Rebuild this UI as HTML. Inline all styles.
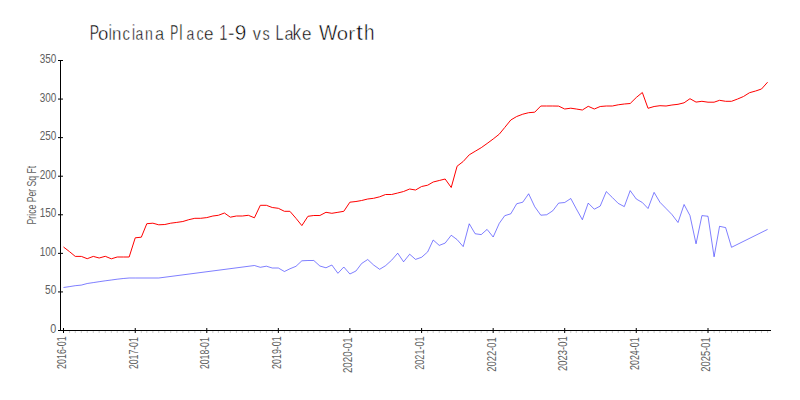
<!DOCTYPE html>
<html><head><meta charset="utf-8"><style>
html,body{margin:0;padding:0;background:#fff;}
body{width:800px;height:400px;overflow:hidden;}
svg{display:block;font-family:"Liberation Sans",sans-serif;}
</style></head><body>
<svg width="800" height="400" viewBox="0 0 800 400">
<rect width="800" height="400" fill="#fff"/>
<g font-size="21.5" fill="#000" stroke="#fff" stroke-width="0.5"><text transform="translate(89.86,40) scale(0.647,1.000)">P</text><text transform="translate(98.02,40) scale(0.867,0.870)">o</text><text transform="translate(108.69,40) scale(0.635,1.000)">i</text><text transform="translate(112.07,40) scale(0.788,0.870)">n</text><text transform="translate(122.57,40) scale(0.690,0.870)">c</text><text transform="translate(131.89,40) scale(0.635,1.000)">i</text><text transform="translate(135.40,40) scale(0.652,0.870)">a</text><text transform="translate(145.06,40) scale(0.657,0.870)">n</text><text transform="translate(154.91,40) scale(0.761,0.870)">a</text><text transform="translate(170.21,40) scale(0.559,1.000)">P</text><text transform="translate(179.30,40) scale(0.688,1.000)">l</text><text transform="translate(186.60,40) scale(0.652,0.870)">a</text><text transform="translate(196.39,40) scale(0.669,0.870)">c</text><text transform="translate(204.08,40) scale(0.793,0.870)">e</text><text transform="translate(219.27,40) scale(0.690,1.000)">1</text><text transform="translate(227.93,40) scale(0.914,1.000)">-</text><text transform="translate(234.63,40) scale(0.967,1.000)">9</text><text transform="translate(252.84,40) scale(0.764,0.870)">v</text><text transform="translate(262.40,40) scale(0.672,0.870)">s</text><text transform="translate(275.61,40) scale(0.675,1.000)">L</text><text transform="translate(284.51,40) scale(0.761,0.870)">a</text><text transform="translate(292.42,40) scale(0.814,1.000)">k</text><text transform="translate(302.08,40) scale(0.793,0.870)">e</text><text transform="translate(318.91,40) scale(0.904,1.000)">W</text><text transform="translate(336.75,40) scale(0.946,0.870)">o</text><text transform="translate(348.22,40) scale(0.967,0.870)">r</text><text transform="translate(356.02,40) scale(1.166,1.000)">t</text><text transform="translate(363.89,40) scale(0.882,1.000)">h</text></g>
<g fill="#606060" font-size="12"><text x="56.3" y="333" text-anchor="end" textLength="6" lengthAdjust="spacingAndGlyphs">0</text><text x="56.3" y="294" text-anchor="end" textLength="11.3" lengthAdjust="spacingAndGlyphs">50</text><text x="56.3" y="256" text-anchor="end" textLength="16.6" lengthAdjust="spacingAndGlyphs">100</text><text x="56.3" y="217" text-anchor="end" textLength="16.6" lengthAdjust="spacingAndGlyphs">150</text><text x="56.3" y="179" text-anchor="end" textLength="16.6" lengthAdjust="spacingAndGlyphs">200</text><text x="56.3" y="140" text-anchor="end" textLength="16.6" lengthAdjust="spacingAndGlyphs">250</text><text x="56.3" y="102" text-anchor="end" textLength="16.6" lengthAdjust="spacingAndGlyphs">300</text><text x="56.3" y="63" text-anchor="end" textLength="16.6" lengthAdjust="spacingAndGlyphs">350</text></g>
<g fill="#606060" font-size="12.5"><text transform="translate(66.10,336.30) rotate(-90)" text-anchor="end" textLength="32.70" lengthAdjust="spacingAndGlyphs">2016-01</text><text transform="translate(138.10,337.30) rotate(-90)" text-anchor="end" textLength="31.70" lengthAdjust="spacingAndGlyphs">2017-01</text><text transform="translate(209.10,337.30) rotate(-90)" text-anchor="end" textLength="31.70" lengthAdjust="spacingAndGlyphs">2018-01</text><text transform="translate(281.10,336.30) rotate(-90)" text-anchor="end" textLength="32.70" lengthAdjust="spacingAndGlyphs">2019-01</text><text transform="translate(352.10,337.30) rotate(-90)" text-anchor="end" textLength="35.75" lengthAdjust="spacingAndGlyphs">2020-01</text><text transform="translate(424.10,336.30) rotate(-90)" text-anchor="end" textLength="33.50" lengthAdjust="spacingAndGlyphs">2021-01</text><text transform="translate(496.10,337.30) rotate(-90)" text-anchor="end" textLength="34.40" lengthAdjust="spacingAndGlyphs">2022-01</text><text transform="translate(567.10,336.30) rotate(-90)" text-anchor="end" textLength="34.70" lengthAdjust="spacingAndGlyphs">2023-01</text><text transform="translate(639.10,337.30) rotate(-90)" text-anchor="end" textLength="32.75" lengthAdjust="spacingAndGlyphs">2024-01</text><text transform="translate(710.10,337.30) rotate(-90)" text-anchor="end" textLength="34.40" lengthAdjust="spacingAndGlyphs">2025-01</text></g>
<text transform="translate(36.3,224.4) rotate(-90)" fill="#606060" font-size="12.8" textLength="58.6" lengthAdjust="spacingAndGlyphs">Price Per Sq Ft</text>
<g stroke="#ccc" stroke-width="1"><line x1="69.58" x2="69.58" y1="331" y2="333"/><line x1="75.26" x2="75.26" y1="331" y2="333"/><line x1="81.34" x2="81.34" y1="331" y2="333"/><line x1="87.22" x2="87.22" y1="331" y2="333"/><line x1="93.29" x2="93.29" y1="331" y2="333"/><line x1="99.17" x2="99.17" y1="331" y2="333"/><line x1="105.25" x2="105.25" y1="331" y2="333"/><line x1="111.33" x2="111.33" y1="331" y2="333"/><line x1="117.21" x2="117.21" y1="331" y2="333"/><line x1="123.28" x2="123.28" y1="331" y2="333"/><line x1="129.17" x2="129.17" y1="331" y2="333"/><line x1="141.32" x2="141.32" y1="331" y2="333"/><line x1="146.81" x2="146.81" y1="331" y2="333"/><line x1="152.88" x2="152.88" y1="331" y2="333"/><line x1="158.76" x2="158.76" y1="331" y2="333"/><line x1="164.84" x2="164.84" y1="331" y2="333"/><line x1="170.72" x2="170.72" y1="331" y2="333"/><line x1="176.80" x2="176.80" y1="331" y2="333"/><line x1="182.87" x2="182.87" y1="331" y2="333"/><line x1="188.75" x2="188.75" y1="331" y2="333"/><line x1="194.83" x2="194.83" y1="331" y2="333"/><line x1="200.71" x2="200.71" y1="331" y2="333"/><line x1="212.86" x2="212.86" y1="331" y2="333"/><line x1="218.35" x2="218.35" y1="331" y2="333"/><line x1="224.43" x2="224.43" y1="331" y2="333"/><line x1="230.31" x2="230.31" y1="331" y2="333"/><line x1="236.39" x2="236.39" y1="331" y2="333"/><line x1="242.27" x2="242.27" y1="331" y2="333"/><line x1="248.34" x2="248.34" y1="331" y2="333"/><line x1="254.42" x2="254.42" y1="331" y2="333"/><line x1="260.30" x2="260.30" y1="331" y2="333"/><line x1="266.38" x2="266.38" y1="331" y2="333"/><line x1="272.26" x2="272.26" y1="331" y2="333"/><line x1="284.41" x2="284.41" y1="331" y2="333"/><line x1="289.90" x2="289.90" y1="331" y2="333"/><line x1="295.97" x2="295.97" y1="331" y2="333"/><line x1="301.86" x2="301.86" y1="331" y2="333"/><line x1="307.93" x2="307.93" y1="331" y2="333"/><line x1="313.81" x2="313.81" y1="331" y2="333"/><line x1="319.89" x2="319.89" y1="331" y2="333"/><line x1="325.97" x2="325.97" y1="331" y2="333"/><line x1="331.85" x2="331.85" y1="331" y2="333"/><line x1="337.92" x2="337.92" y1="331" y2="333"/><line x1="343.80" x2="343.80" y1="331" y2="333"/><line x1="355.96" x2="355.96" y1="331" y2="333"/><line x1="361.64" x2="361.64" y1="331" y2="333"/><line x1="367.72" x2="367.72" y1="331" y2="333"/><line x1="373.60" x2="373.60" y1="331" y2="333"/><line x1="379.67" x2="379.67" y1="331" y2="333"/><line x1="385.55" x2="385.55" y1="331" y2="333"/><line x1="391.63" x2="391.63" y1="331" y2="333"/><line x1="397.71" x2="397.71" y1="331" y2="333"/><line x1="403.59" x2="403.59" y1="331" y2="333"/><line x1="409.66" x2="409.66" y1="331" y2="333"/><line x1="415.54" x2="415.54" y1="331" y2="333"/><line x1="427.70" x2="427.70" y1="331" y2="333"/><line x1="433.19" x2="433.19" y1="331" y2="333"/><line x1="439.26" x2="439.26" y1="331" y2="333"/><line x1="445.14" x2="445.14" y1="331" y2="333"/><line x1="451.22" x2="451.22" y1="331" y2="333"/><line x1="457.10" x2="457.10" y1="331" y2="333"/><line x1="463.18" x2="463.18" y1="331" y2="333"/><line x1="469.25" x2="469.25" y1="331" y2="333"/><line x1="475.13" x2="475.13" y1="331" y2="333"/><line x1="481.21" x2="481.21" y1="331" y2="333"/><line x1="487.09" x2="487.09" y1="331" y2="333"/><line x1="499.24" x2="499.24" y1="331" y2="333"/><line x1="504.73" x2="504.73" y1="331" y2="333"/><line x1="510.81" x2="510.81" y1="331" y2="333"/><line x1="516.69" x2="516.69" y1="331" y2="333"/><line x1="522.77" x2="522.77" y1="331" y2="333"/><line x1="528.65" x2="528.65" y1="331" y2="333"/><line x1="534.72" x2="534.72" y1="331" y2="333"/><line x1="540.80" x2="540.80" y1="331" y2="333"/><line x1="546.68" x2="546.68" y1="331" y2="333"/><line x1="552.76" x2="552.76" y1="331" y2="333"/><line x1="558.64" x2="558.64" y1="331" y2="333"/><line x1="570.79" x2="570.79" y1="331" y2="333"/><line x1="576.28" x2="576.28" y1="331" y2="333"/><line x1="582.35" x2="582.35" y1="331" y2="333"/><line x1="588.23" x2="588.23" y1="331" y2="333"/><line x1="594.31" x2="594.31" y1="331" y2="333"/><line x1="600.19" x2="600.19" y1="331" y2="333"/><line x1="606.27" x2="606.27" y1="331" y2="333"/><line x1="612.34" x2="612.34" y1="331" y2="333"/><line x1="618.22" x2="618.22" y1="331" y2="333"/><line x1="624.30" x2="624.30" y1="331" y2="333"/><line x1="630.18" x2="630.18" y1="331" y2="333"/><line x1="642.33" x2="642.33" y1="331" y2="333"/><line x1="648.02" x2="648.02" y1="331" y2="333"/><line x1="654.10" x2="654.10" y1="331" y2="333"/><line x1="659.98" x2="659.98" y1="331" y2="333"/><line x1="666.05" x2="666.05" y1="331" y2="333"/><line x1="671.93" x2="671.93" y1="331" y2="333"/><line x1="678.01" x2="678.01" y1="331" y2="333"/><line x1="684.09" x2="684.09" y1="331" y2="333"/><line x1="689.97" x2="689.97" y1="331" y2="333"/><line x1="696.04" x2="696.04" y1="331" y2="333"/><line x1="701.92" x2="701.92" y1="331" y2="333"/><line x1="714.08" x2="714.08" y1="331" y2="333"/><line x1="719.56" x2="719.56" y1="331" y2="333"/><line x1="725.64" x2="725.64" y1="331" y2="333"/><line x1="731.52" x2="731.52" y1="331" y2="333"/><line x1="737.60" x2="737.60" y1="331" y2="333"/><line x1="743.48" x2="743.48" y1="331" y2="333"/><line x1="749.56" x2="749.56" y1="331" y2="333"/><line x1="755.63" x2="755.63" y1="331" y2="333"/><line x1="761.51" x2="761.51" y1="331" y2="333"/><line x1="767.59" x2="767.59" y1="331" y2="333"/></g>
<path d="M60.5,60V330.5H771" stroke="#000" fill="none"/>
<g stroke="#000" stroke-width="1"><line x1="58" x2="63" y1="330.50" y2="330.50"/><line x1="58" x2="63" y1="291.93" y2="291.93"/><line x1="58" x2="63" y1="253.36" y2="253.36"/><line x1="58" x2="63" y1="214.79" y2="214.79"/><line x1="58" x2="63" y1="176.21" y2="176.21"/><line x1="58" x2="63" y1="137.64" y2="137.64"/><line x1="58" x2="63" y1="99.07" y2="99.07"/><line x1="58" x2="63" y1="60.50" y2="60.50"/><line x1="63.50" x2="63.50" y1="328" y2="333"/><line x1="135.24" x2="135.24" y1="328" y2="333"/><line x1="206.79" x2="206.79" y1="328" y2="333"/><line x1="278.33" x2="278.33" y1="328" y2="333"/><line x1="349.88" x2="349.88" y1="328" y2="333"/><line x1="421.62" x2="421.62" y1="328" y2="333"/><line x1="493.17" x2="493.17" y1="328" y2="333"/><line x1="564.71" x2="564.71" y1="328" y2="333"/><line x1="636.26" x2="636.26" y1="328" y2="333"/><line x1="708.00" x2="708.00" y1="328" y2="333"/></g>
<path d="M63.50,247.00L69.58,251.70L75.26,256.40L81.34,256.40L87.22,258.70L93.29,256.40L99.17,258.00L105.25,256.30L111.33,258.80L117.21,257.00L123.28,257.00L129.17,257.00L135.24,237.80L141.32,237.20L146.81,223.70L152.88,223.20L158.76,224.80L164.84,224.50L170.72,223.20L176.80,222.40L182.87,221.50L188.75,219.70L194.83,218.30L200.71,218.30L206.79,217.60L212.86,216.00L218.35,215.30L224.43,213.00L230.31,217.20L236.39,216.00L242.27,216.00L248.34,215.30L254.42,217.80L260.30,205.30L266.38,205.30L272.26,207.50L278.33,208.30L284.41,211.30L289.90,211.30L295.97,218.30L301.86,225.60L307.93,216.30L313.81,215.50L319.89,215.50L325.97,212.30L331.85,213.30L337.92,212.30L343.80,211.30L349.88,202.20L355.96,201.50L361.64,200.50L367.72,199.00L373.60,198.30L379.67,196.80L385.55,194.50L391.63,194.50L397.71,193.00L403.59,191.50L409.66,189.00L415.54,190.00L421.62,186.50L427.70,185.20L433.19,182.00L439.26,180.50L445.14,179.00L451.22,187.50L457.10,166.20L463.18,161.50L469.25,154.80L475.13,151.30L481.21,147.70L487.09,143.50L493.17,139.00L499.24,134.20L504.73,127.50L510.81,120.00L516.69,116.50L522.77,114.20L528.65,112.70L534.72,112.20L540.80,106.00L546.68,106.00L552.76,106.00L558.64,106.10L564.71,109.00L570.79,108.20L576.28,109.00L582.35,110.00L588.23,106.30L594.31,109.00L600.19,106.50L606.27,106.00L612.34,106.00L618.22,104.80L624.30,104.00L630.18,103.50L636.26,97.50L642.33,92.50L648.02,108.30L654.10,106.50L659.98,105.70L666.05,106.00L671.93,105.00L678.01,104.30L684.09,102.80L689.97,98.70L696.04,102.10L701.92,101.30L708.00,102.20L714.08,102.20L719.56,100.30L725.64,101.30L731.52,101.30L737.60,99.00L743.48,96.50L749.56,92.70L755.63,91.00L761.51,89.00L767.59,82.20" fill="none" stroke="#ff0000" stroke-width="1" stroke-linejoin="round"/>
<path d="M63.50,287.50L69.58,286.60L75.26,285.70L81.34,285.10L87.22,283.50L93.29,282.60L99.17,281.70L105.25,280.80L111.33,280.00L117.21,279.20L123.28,278.50L129.17,278.00L135.24,278.00L158.76,278.00L254.42,265.50L260.30,267.30L266.38,266.20L272.26,268.00L278.33,268.00L284.41,271.50L289.90,268.80L295.97,266.30L301.86,260.80L307.93,260.50L313.81,260.50L319.89,266.00L325.97,267.80L331.85,265.00L337.92,273.30L343.80,267.00L349.88,274.00L355.96,271.00L361.64,263.50L367.72,259.50L373.60,265.00L379.67,269.30L385.55,265.70L391.63,260.20L397.71,253.20L403.59,261.80L409.66,254.20L415.54,259.40L421.62,257.25L427.70,251.90L433.19,240.00L439.26,245.40L445.14,243.10L451.22,235.25L457.10,239.60L463.18,246.60L469.25,223.75L475.13,233.75L481.21,234.60L487.09,229.40L493.17,237.00L499.24,223.40L504.73,215.70L510.81,213.80L516.69,203.75L522.77,202.20L528.65,193.75L534.72,206.70L540.80,215.20L546.68,214.75L552.76,210.80L558.64,203.10L564.71,202.50L570.79,198.50L576.28,208.75L582.35,219.70L588.23,203.10L594.31,209.20L600.19,206.10L606.27,191.60L612.34,197.50L618.22,203.40L624.30,206.60L630.18,190.60L636.26,199.00L642.33,202.50L648.02,208.50L654.10,192.40L659.98,202.30L666.05,208.50L671.93,214.50L678.01,222.50L684.09,204.50L689.97,215.60L696.04,243.80L701.92,215.60L708.00,216.25L714.08,256.80L719.56,226.30L725.64,227.60L731.52,247.30L767.59,229.40" fill="none" stroke="#0000ff" stroke-opacity="0.5" stroke-width="1" stroke-linejoin="round"/>
</svg>
</body></html>
